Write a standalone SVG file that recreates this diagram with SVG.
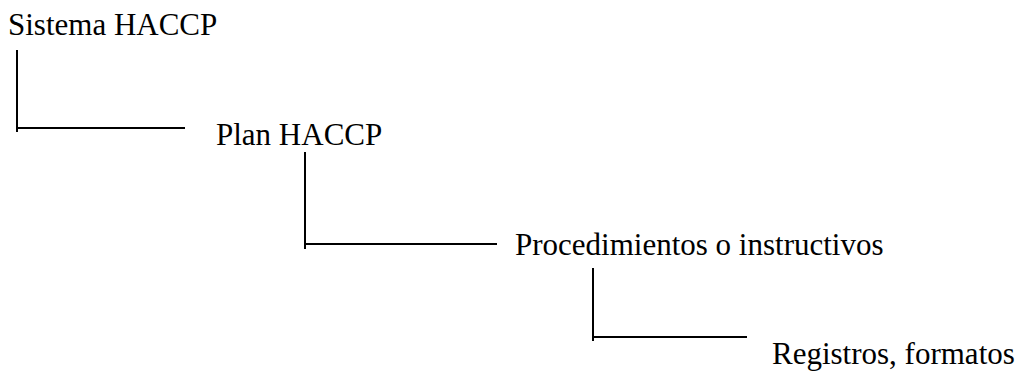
<svg xmlns="http://www.w3.org/2000/svg" width="1028" height="371" viewBox="0 0 1028 371">
  <style>
    .label { font-family: "Liberation Serif", "Times New Roman", serif; font-size: 31px; fill: #000; }
    .link { fill: none; stroke: #000; stroke-width: 2; }
  </style>
  <rect width="1028" height="371" fill="#fff"/>
  <!-- elbow connectors between hierarchy levels -->
  <g id="connectors">
    <path class="link" d="M17 50 V132 M17 128 H185"/>
    <path class="link" d="M305 152 V249 M305 244 H497"/>
    <path class="link" d="M593 268 V341 M593 337 H747"/>
  </g>
  <g id="node-sistema">
    <text class="label" x="8" y="35">Sistema HACCP</text>
  </g>
  <g id="node-plan">
    <text class="label" x="216" y="145">Plan HACCP</text>
  </g>
  <g id="node-procedimientos">
    <text class="label" x="515" y="255">Procedimientos o instructivos</text>
  </g>
  <g id="node-registros">
    <text class="label" x="772" y="364">Registros, formatos</text>
  </g>
</svg>
